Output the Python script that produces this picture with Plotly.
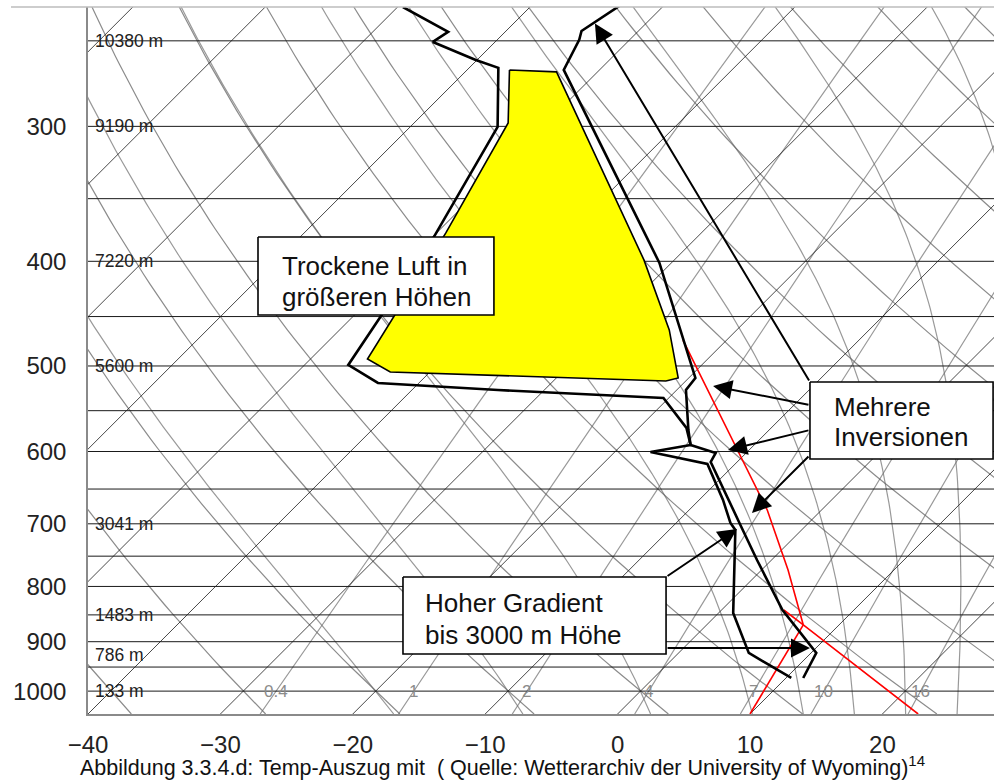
import numpy as np
import plotly.graph_objects as go

# ---------------- diagram frame ----------------
P_BOTTOM = 1050.0
P_TOP = 232.6
X_MIN, X_MAX = -40.0, 28.43
SKEW = 35.42          # x-units per ln(p): isotherms at 45 degrees

# ---------------- sounding (pressure hPa, temperature degC) ----------------
temp_pres = [229.1, 244.8, 249.5, 266.0, 401.4, 512.9, 526.3, 573.1, 591.7,
             601.9, 613.5, 665.3, 701.7, 756.1, 841.2, 921.9, 972.4]
temp_vals = [-53.1, -54.3, -53.8, -52.7, -30.9, -19.5, -19.3, -16.1, -14.8,
             -12.3, -12.0, -7.8, -5.0, -1.1, 4.6, 10.4, 11.3]

dew_pres = [232.6, 245.3, 250.6, 260.4, 264.8, 300.3, 379.7, 498.9, 518.4,
            526.3, 535.3, 570.6, 591.7, 600.6, 616.1, 665.3, 698.8, 709.3,
            846.5, 921.9, 972.4]
dew_vals = [-69.6, -64.3, -64.7, -60.1, -57.8, -53.4, -49.9, -46.7, -43.1,
            -33.5, -20.4, -16.4, -14.8, -17.3, -12.1, -8.2, -5.9, -5.0,
            1.1, 5.3, 10.4]

# dry layer aloft (highlighted area)
dry_pres = [266.0, 267.1, 398.8, 463.0, 512.9, 516.2, 506.4, 492.6, 376.5, 297.8]
dry_vals = [-56.8, -53.1, -32.3, -25.1, -20.8, -21.5, -43.0, -45.7, -49.3, -52.9]

# parcel path
parcel_moist_pres = [473.1, 567.0, 679.7, 772.4, 868.4]
parcel_moist_vals = [-23.3, -13.7, -4.1, 2.0, 7.3]
parcel_mix_pres = [868.4, 1050.0]
parcel_mix_vals = [7.3, 10.0]
parcel_dry_pres = [841.2, 868.4, 1050.0]
parcel_dry_vals = [4.7, 7.3, 22.7]

# ---------------- background line sets ----------------
isotherms = list(range(-130, 41, 10))
dry_adiabats_c = list(range(-40, 121, 10))          # theta in degC
moist_adiabats_c = [-20, -10, 0, 8, 12, 16, 20, 24, 28, 32]
mixing_ratios = [0.4, 1, 2, 4, 7, 10, 16]
mixing_labels = ["0.4", "1", "2", "4", "7", "10", "16"]
pressure_lines = list(range(250, 1001, 50))
pressure_ticks = [300, 400, 500, 600, 700, 800, 900, 1000]
temp_ticks = [-40, -30, -20, -10, 0, 10, 20]
height_levels = [250, 300, 400, 500, 700, 850, 925, 1000]
height_labels = ["10380 m", "9190 m", "7220 m", "5600 m", "3041 m",
                 "1483 m", "786 m", "133 m"]

FONT = "Liberation Sans, Arial, sans-serif"


def skew_x(t, p):
    return np.asarray(t, float) + SKEW * np.log(P_BOTTOM / np.asarray(p, float))


def moist_profile(t1000, p_levels):
    Rd, cp, Lv, eps = 287.04, 1005.7, 2.501e6, 0.622

    def rate(T, p):
        es = 6.112 * np.exp(17.67 * (T - 273.15) / (T - 29.65))
        rs = eps * es / (p - es)
        return (Rd * T + Lv * rs) / (p * (cp + Lv * Lv * rs * eps / (Rd * T * T)))

    T = t1000 + 273.15
    out = [T]
    for p0, p1 in zip(p_levels[:-1], p_levels[1:]):
        h = p1 - p0
        k1 = rate(T, p0)
        k2 = rate(T + h * k1 / 2, p0 + h / 2)
        k3 = rate(T + h * k2 / 2, p0 + h / 2)
        k4 = rate(T + h * k3, p1)
        T = T + h * (k1 + 2 * k2 + 2 * k3 + k4) / 6
        out.append(T)
    return np.array(out) - 273.15


def mixing_dewpoint(w, p):
    e = w * np.asarray(p, float) / (622.0 + w)
    a = np.log(e / 6.112)
    return 243.5 * a / (17.67 - a)


fig = go.Figure()


def add_family(segments, color, width):
    xs, ys = [], []
    for x, p in segments:
        xs += list(x) + [None]
        ys += list(p) + [None]
    fig.add_trace(go.Scatter(x=xs, y=ys, mode="lines", hoverinfo="skip",
                             line=dict(color=color, width=width), showlegend=False))


p_full = np.geomspace(P_BOTTOM, 225.0, 80)

# mixing ratio lines
add_family([(skew_x(mixing_dewpoint(w, p_full), p_full), p_full) for w in mixing_ratios],
           "rgba(110,110,110,0.7)", 1.2)

# moist adiabats
p_up = np.geomspace(1000.0, 225.0, 120)
p_dn = np.linspace(1000.0, P_BOTTOM, 6)
moist_segs = []
for t0 in moist_adiabats_c:
    up = moist_profile(t0, p_up)
    dn = moist_profile(t0, p_dn)
    pp = np.concatenate([p_dn[::-1], p_up[1:]])
    tt = np.concatenate([dn[::-1], up[1:]])
    moist_segs.append((skew_x(tt, pp), pp))
add_family(moist_segs, "rgba(110,110,110,0.7)", 1.2)

# dry adiabats
dry_segs = []
for th in dry_adiabats_c:
    tt = (th + 273.15) * (p_full / 1000.0) ** 0.2857 - 273.15
    dry_segs.append((skew_x(tt, p_full), p_full))
add_family(dry_segs, "rgba(100,100,100,0.75)", 1.2)

# isotherms
iso_p = np.array([P_BOTTOM, 225.0])
add_family([(skew_x([t, t], iso_p), iso_p) for t in isotherms], "rgba(30,30,30,0.9)", 0.9)

# isobars
add_family([([X_MIN, X_MAX], [p, p]) for p in pressure_lines], "#1a1a1a", 1.0)

# highlighted dry layer
fig.add_trace(go.Scatter(x=skew_x(dry_vals + dry_vals[:1], dry_pres + dry_pres[:1]),
                         y=dry_pres + dry_pres[:1], mode="lines", fill="toself",
                         fillcolor="#ffff00", line=dict(color="black", width=1.6),
                         hoverinfo="skip", showlegend=False))

# parcel path (red)
for pp, tt in [(parcel_moist_pres, parcel_moist_vals),
               (parcel_mix_pres, parcel_mix_vals),
               (parcel_dry_pres, parcel_dry_vals)]:
    fig.add_trace(go.Scatter(x=skew_x(tt, pp), y=pp, mode="lines",
                             line=dict(color="#ff0000", width=1.6),
                             hoverinfo="skip", showlegend=False))

# sounding: dewpoint and temperature
fig.add_trace(go.Scatter(x=skew_x(dew_vals, dew_pres), y=dew_pres, mode="lines",
                         line=dict(color="black", width=2.6), showlegend=False))
fig.add_trace(go.Scatter(x=skew_x(temp_vals, temp_pres), y=temp_pres, mode="lines",
                         line=dict(color="black", width=2.6), showlegend=False))

# ---------------- text boxes (x0, x1, p_top, p_bottom) ----------------
boxes = [
    (-27.16, -9.34, 379.8, 448.5),
    (14.53, 28.36, 517.4, 609.6),
    (-16.21, 3.66, 784.0, 923.9),
]
for x0, x1, pt, pb in boxes:
    fig.add_trace(go.Scatter(x=[x0, x1, x1, x0, x0], y=[pt, pt, pb, pb, pt],
                             mode="lines", fill="toself", fillcolor="white",
                             line=dict(color="black", width=1.6),
                             hoverinfo="skip", showlegend=False))

box_text = [
    (-25.5, 403.9, "Trockene Luft in"),
    (-25.5, 431.5, "größeren Höhen"),
    (16.2, 546.2, "Mehrere"),
    (16.2, 582.3, "Inversionen"),
    (-14.7, 828.8, "Hoher Gradient"),
    (-14.7, 887.3, "bis 3000 m Höhe"),
]
for x, p, t in box_text:
    fig.add_annotation(x=x, y=np.log10(p), text=t, showarrow=False,
                       xanchor="left", yanchor="middle",
                       font=dict(family=FONT, size=26, color="#111"))

# mixing ratio labels along 1000 hPa
for w, lab in zip(mixing_ratios, mixing_labels):
    fig.add_annotation(x=float(skew_x(mixing_dewpoint(w, 1000.0), 1000.0)), y=3.0,
                       text=lab, showarrow=False, xanchor="center", yanchor="middle",
                       font=dict(family=FONT, size=17, color="#8c8c8c"))

# height labels
for lev, lab in zip(height_levels, height_labels):
    fig.add_annotation(x=X_MIN, y=np.log10(lev), text=lab, showarrow=False,
                       xanchor="left", yanchor="middle", xshift=5,
                       font=dict(family=FONT, size=17.5, color="#222"))

# arrows: (tip x, tip p, tail x, tail p)
arrows = [
    (-1.71, 240.9, 14.53, 517.4),
    (7.21, 521.8, 14.53, 543.4),
    (8.34, 598.1, 14.53, 573.1),
    (10.15, 684.0, 14.53, 604.5),
    (9.02, 707.7, 3.66, 784.0),
    (14.53, 912.2, 3.66, 912.2),
]
for tx, tp, sx, sp in arrows:
    fig.add_annotation(x=tx, y=np.log10(tp), ax=sx, ay=np.log10(sp),
                       xref="x", yref="y", axref="x", ayref="y", text="",
                       showarrow=True, arrowhead=2, arrowsize=1.9, arrowwidth=2,
                       arrowcolor="black", standoff=0, startstandoff=0)

# caption
fig.add_annotation(xref="paper", yref="paper", x=0.457, y=-0.074,
                   text="Abbildung 3.3.4.d: Temp-Auszug mit  ( Quelle: Wetterarchiv der "
                        "University of Wyoming)<sup>14</sup>",
                   showarrow=False, xanchor="center", yanchor="middle",
                   font=dict(family=FONT, size=21.5, color="#111"))

# top frame line
fig.add_shape(type="line", xref="paper", yref="paper", x0=-0.085, x1=1.0, y0=1.0, y1=1.0,
              line=dict(color="#bdbdbd", width=1.5), layer="above")

fig.update_layout(
    width=994, height=783,
    margin=dict(l=88, r=0, t=7, b=69, autoexpand=False),
    paper_bgcolor="white", plot_bgcolor="white",
    font=dict(family=FONT, color="#222"),
    showlegend=False,
    xaxis=dict(range=[X_MIN, X_MAX], tickvals=temp_ticks, showgrid=False, zeroline=False,
               showline=True, linecolor="#8a8a8a", linewidth=2, ticks="",
               ticklabelstandoff=8, tickfont=dict(size=24, family=FONT, color="#222")),
    yaxis=dict(type="log", range=[np.log10(P_BOTTOM), np.log10(P_TOP)],
               tickvals=pressure_ticks, ticktext=[str(v) for v in pressure_ticks],
               showgrid=False, zeroline=False, showline=True, linecolor="#8a8a8a",
               linewidth=1.5, ticks="", ticklabelstandoff=15,
               tickfont=dict(size=24, family=FONT, color="#222")),
)

fig.write_html("out.html")
